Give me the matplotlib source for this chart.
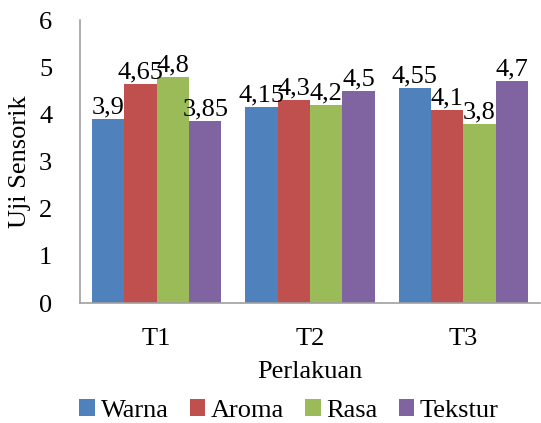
import numpy as np
import matplotlib.pyplot as plt

plt.rcParams['font.family'] = ['Liberation Serif', 'DejaVu Serif']

# data
categories = ['T1', 'T2', 'T3']
series_names = ['Warna', 'Aroma', 'Rasa', 'Tekstur']
warna = [3.9, 4.15, 4.55]
aroma = [4.65, 4.3, 4.1]
rasa = [4.8, 4.2, 3.8]
tekstur = [3.85, 4.5, 4.7]
colors = ['#4F81BD', '#C0504D', '#9BBB59', '#8064A2']

fs = 19
fig = plt.figure(figsize=(5.41, 4.23), dpi=100)
ax = fig.add_axes([80/541, 120/423, 460/541, 283/423])

x = np.arange(len(categories))
gw = 0.845
w = gw / 4
for i, vals in enumerate([warna, aroma, rasa, tekstur]):
    pos = x - gw/2 + w/2 + i*w
    bars = ax.bar(pos, vals, w, color=colors[i], label=series_names[i])
    for b, v in zip(bars, vals):
        ax.text(b.get_x() + b.get_width()/2, v + 0.01, str(v).replace('.', ','),
                ha='center', va='bottom', fontsize=fs)

ax.set_xlim(-0.5, 2.5)
ax.set_ylim(0, 6)
ax.set_xticks(x)
ax.set_xticklabels(categories, fontsize=fs)
ax.set_yticks(range(7))
ax.tick_params(axis='y', labelsize=fs, length=0, pad=20)
ax.tick_params(axis='x', length=0, pad=18)
for s in ['top', 'right']:
    ax.spines[s].set_visible(False)
for s in ['left', 'bottom']:
    ax.spines[s].set_color('#A0A0A0')
    ax.spines[s].set_linewidth(1.2)

ax.set_xlabel('Perlakuan', fontsize=fs, labelpad=8)
ax.set_ylabel('Uji Sensorik', fontsize=fs, labelpad=6)

ax.legend(loc='center', bbox_to_anchor=(289/460 - 80/460, -0.38), ncol=4, frameon=False,
          fontsize=fs, handlelength=0.6, handleheight=0.6, handletextpad=0.2,
          columnspacing=0.8, borderaxespad=0, borderpad=0)

plt.savefig('out.png', dpi=100)
